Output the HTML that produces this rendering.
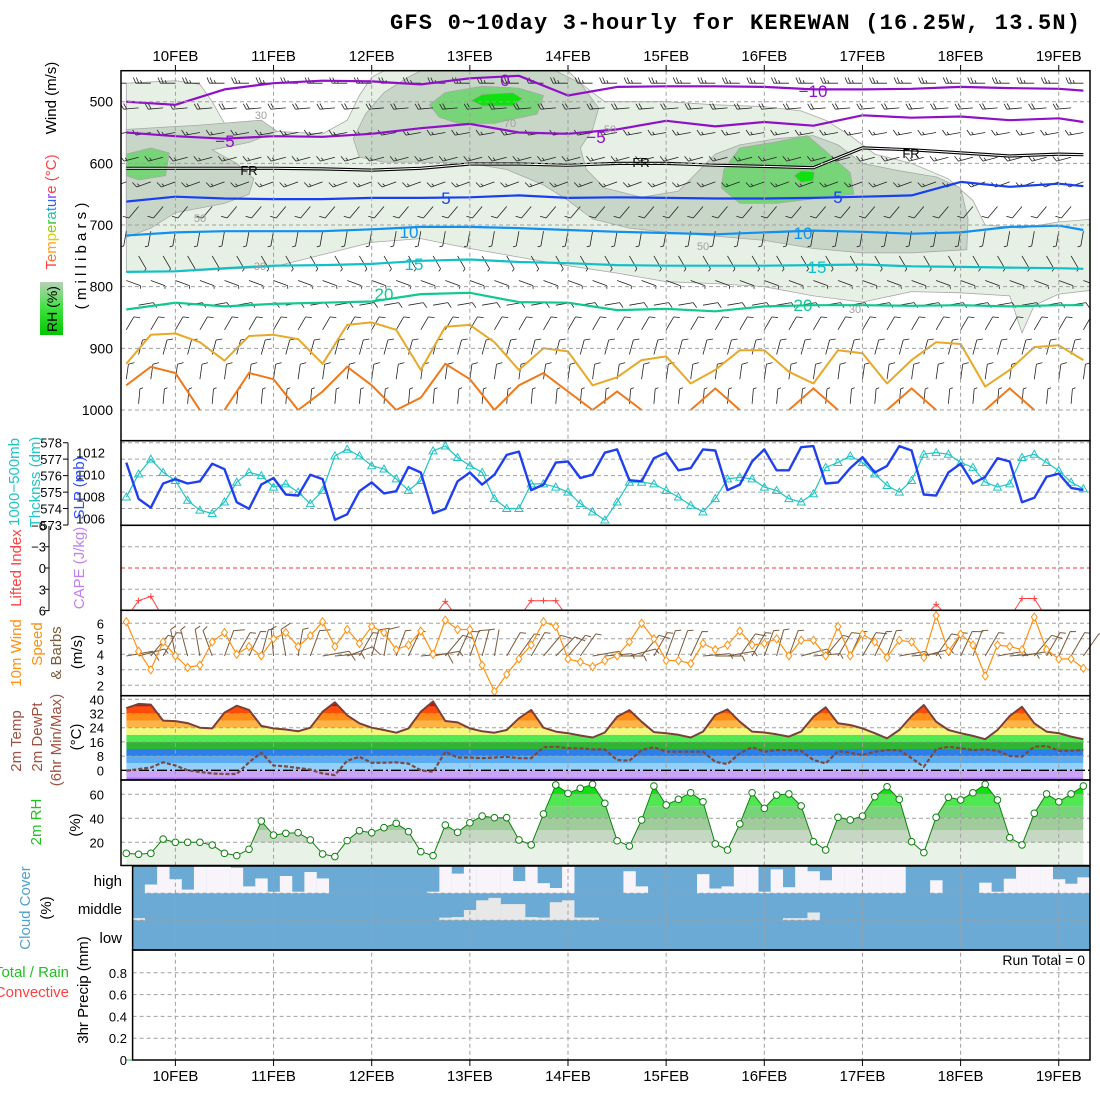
<!DOCTYPE html>
<html><head><meta charset="utf-8">
<style>
body{margin:0;background:#fff}
svg{display:block;font-family:"Liberation Sans",sans-serif}
</style></head>
<body>
<svg id="c" width="1100" height="1100" xmlns="http://www.w3.org/2000/svg">
<defs>
<clipPath id="cp1"><rect x="121" y="70.7" width="969" height="339.3"/></clipPath>
<clipPath id="cp3"><rect x="121" y="525.3" width="969" height="85"/></clipPath>
<clipPath id="cpT"><path id="tclip" d=""/></clipPath>
<clipPath id="cpR"><path id="rclip" d=""/></clipPath>
<linearGradient id="rhg" x1="0" y1="1" x2="0" y2="0"><stop offset="0" stop-color="#00c800"/><stop offset="0.5" stop-color="#40e040"/><stop offset="1" stop-color="#b8d0b8"/></linearGradient>
</defs>
<rect x="0" y="0" width="1100" height="1100" fill="#fff"/>
<text x="735" y="29" text-anchor="middle" font-family="Liberation Mono, monospace" font-weight="bold" font-size="22" textLength="690">GFS 0~10day 3-hourly for KEREWAN (16.25W, 13.5N)</text>
<g id="layers"></g>
</svg>
<script>
// ---------- data ----------
const slp=[1011.1,1007.8,1007.0,1009.2,1009.6,1009.2,1009.4,1011.0,1010.5,1007.5,1006.9,1009.1,1009.7,1008.2,1008.1,1010.0,1009.6,1005.9,1006.4,1008.5,1009.3,1008.3,1008.5,1010.7,1010.2,1006.5,1006.9,1009.4,1010.2,1009.1,1010.0,1011.8,1012.1,1008.6,1009.1,
1011.1,1011.2,1009.7,1010.0,1012.0,1012.3,1009.5,1009.4,1011.5,1012.0,1010.4,1010.6,1012.3,1012.2,1008.6,1009.1,1011.2,1012.3,1010.4,1010.4,1012.5,1012.6,1009.2,1009.3,1010.6,1011.6,1010.2,1010.8,1012.6,1012.2,1008.2,1008.1,1010.2,1011.0,1009.2,1009.8,1011.5,1011.2,1007.5,1007.9,1009.8,1010.1,1008.8,1008.6];
const thk=[574.7,576.1,577.0,576.2,575.7,574.5,573.9,573.7,574.4,575.6,576.2,576.0,575.3,575.5,575.0,574.3,575.1,577.2,577.6,577.2,576.6,576.4,575.8,575.1,575.7,577.5,577.8,577.1,576.6,576.2,574.6,574.0,574.0,575.5,575.5,
575.3,575.0,574.3,573.8,573.3,574.4,575.6,575.6,575.5,575.1,574.7,574.2,573.8,574.6,575.8,575.9,575.8,575.3,575.1,574.6,574.4,574.9,576.5,576.8,577.2,576.8,576.1,575.4,575.0,575.7,577.3,577.4,577.3,576.8,576.5,575.6,575.3,575.5,577.1,577.3,576.8,576.3,575.6,575.2];
const liIdx=[7,4.6,4.0,7,8,8,8,8,8,8,8,8,8,8,8,8,8,8,8,8,8,8,8,8,8,7,4.7,7,8,8,8,8,7,4.6,4.6,4.6,7,8,8,8,8,8,8,8,8,8,8,8,8,8,8,8,8,8,8,8,8,8,8,8,8,8,8,8,8,7,5.1,7,8,8,8,8,7,4.3,4.3,7,8,8,8];
const wind10=[6.1,4.2,3.0,4.8,3.9,3.15,3.3,4.8,5.4,4.0,4.5,3.9,5.0,5.4,4.5,5.2,6.1,4.5,5.6,4.7,5.8,5.4,4.3,4.6,5.5,4.0,6.2,5.6,5.6,3.3,1.6,2.7,3.7,4.6,6.1,
5.8,3.7,3.5,3.2,3.6,3.9,4.8,6.0,5.0,3.6,3.6,3.4,4.7,4.3,4.6,5.5,4.6,4.7,5.0,3.9,4.9,4.9,3.9,5.8,3.9,5.3,4.8,3.8,4.9,4.8,3.8,6.5,4.2,5.3,4.6,2.6,4.6,4.5,4.3,6.4,4.3,3.7,3.7,3.1];
const dir10=[80,75,40,30,350,345,350,340,20,30,25,15,355,350,10,20,80,85,70,30,15,10,20,25,85,80,40,25,20,15,10,30,35,30,40,45,40,35,80,85,90,75,40,30,20,20,25,85,90,80,35,30,20,15,20,75,85,40,30,25,30,25,20,80,85,75,35,30,25,20,30,80,85,80,40,30,25,30,35];
const temp2m=[35,37.4,37,28,27.7,26.6,24,23.6,32.5,36.4,34,25,23.6,23,22,24,33,38.3,31,26.5,24,22.7,21.2,23.6,33,38.8,27.8,27,23.6,22,21.2,22.7,29.3,34,24,
21.8,20.9,19.6,18.5,21.3,30.2,33.9,27.4,21.5,20.9,20.0,18.5,21.8,31.2,34.3,27.4,21.8,21.3,20.3,19.0,21.8,30.2,35.5,26.5,25.5,23.6,20.9,18.0,22.7,30.6,36.8,27.4,22.7,20.9,19.4,17.5,22.7,30.6,35.8,26.5,21.8,20.9,19.0,17.5];
const dew2m=[-0.2,0.7,1.6,4.5,2.7,0,-0.9,-1.8,-2.1,-2.1,4.5,9.9,2.7,2.2,1.3,0.4,-1.8,-2.7,5.4,7.6,4.2,4.3,4.5,3.8,0,-0.9,10.5,7.2,7.2,6.8,7.2,7.6,6.8,6.8,13.0,
13.3,12.4,12.4,11.8,11.8,5.8,5.4,11.4,13.0,10.5,10.5,10.5,10.5,4.8,3.5,9.6,13.0,10.5,11.4,11.4,11.0,5.8,3.9,10.9,9.9,8.6,10.5,11.4,11.4,6.8,2.0,11.8,13.3,12.4,11.4,11.8,11.0,8.1,7.7,13.3,13.7,11.0,11.0,11.4];
const rh2m=[10.8,10,10.8,22.7,20,20,20,17.7,10.8,8.9,14.2,37.7,26,27.5,28,22,10.3,8.1,21.4,29.7,28,32.2,35.8,28.9,12.2,8.9,34.4,28.3,36.3,41.9,40.5,40.5,22,17.8,43.6,
67.8,60.8,65,68.3,52.5,21.3,16.9,38.6,66.9,51.1,55.8,61.3,53.8,18.6,13.6,35.3,61.3,48.3,59.4,60.3,50.3,20.5,13.6,40.8,38.6,41.9,58,66.3,55.8,20.5,11.4,40.8,57.5,55.3,61.3,68.3,55.3,23.9,17.8,44.2,60.3,53.8,60.3,66.9];
const highClear=[0,0.33,1,0.53,0.14,1,1,1,0.96,0.26,0.56,0.06,0.65,0.06,0.8,0.56,0,0,0,0,0,0,0,0,0.06,1,0.74,1,1,1,1,0.46,1,0.38,
0.2,1,0,0,0,0,0.83,0.26,0,0,0,0,0.72,0.18,0.26,1,1,0.06,0.9,0.23,1,0.83,0.49,1,1,1,1,1,1,0,0,0.49,0,0,0,0.4,0.06,0.55,1,1,1,0.53,0.36,0.6,1];
const midClear=[0.08,0,0,0,0,0,0,0,0,0,0,0,0,0,0,0,0,0,0,0,0,0,0,0,0,0.1,0.12,0.38,0.74,0.83,0.6,0.6,0.12,0.1,0.67,0.74,0.1,0.1,0,0,0,0,0,0,0,0,0,0,0,0,0,0,0,0.08,0.08,0.29,0,0,0,0,0,0,0,0,0,0,0,0,0,0,0,0,0,0,0,0,0,0,0];
const precip=new Array(79).fill(0);
// isotherm pressure levels (mb) at sample indices
const isoIdx=[0,4,8,12,16,20,24,28,32,36,40,44,48,52,56,60,64,68,72,76,78];
const isoM10=[500,505,480,470,466,467,472,462,458,490,476,475,475,476,480,480,479,476,478,479,482];
const isoM5=[550,556,560,556,557,552,543,536,550,552,545,531,540,533,539,522,526,524,530,527,533];
const isoFR=[608,608,608,608,609,611,608,601,601,603,600,600,603,605,607,575,578,583,588,585,586];
const iso5=[662,654,657,658,658,656,656,655,652,656,655,656,657,657,656,654,652,630,638,633,637];
const iso10=[717,712,710,710,710,707,703,703,705,708,711,713,715,712,709,711,714,712,703,701,708];
const iso15=[776,775,770,766,765,763,758,756,760,762,765,766,766,766,765,764,767,768,769,770,771];
const iso20=[837,826,832,828,826,824,812,810,825,826,838,836,840,832,830,830,831,830,832,830,830];
const lowIdx=[0,2,4,6,8,10,12,14,16,18,20,22,24,26,28,30,32,34,36,38,40,42,44,46,48,50,52,54,56,58,60,62,64,66,68,70,72,74,76,78];
const iso25=[925,878,876,890,920,880,878,885,925,862,858,870,935,865,862,890,935,900,905,960,947,919,913,957,935,903,903,938,957,903,908,957,919,890,893,962,935,898,895,919];
const iso30=[960,930,940,1000,1000,940,950,1000,970,930,960,1000,980,925,950,1000,960,940,970,1000,970,1000,1000,1000,965,1000,1000,1000,965,1000,1000,1000,965,1000,1000,1000,965,1000,1000,1000];
// RH cross-section regions, vertices as [time index, pressure mb]
const rh30Region=[[0,470],[4,466],[6,472],[7,500],[8,535],[12,548],[16,552],[18,530],[19,490],[20,460],[21,450],[36,450],[37,470],[39,500],[44,500],[48,505],[52,508],[55,515],[57,530],[59,555],[61,585],[64,600],[67,625],[69,660],[70,700],[73,705],[76,695],[79,690],[79,805],[76,812],[74,830],[73,875],[72,815],[68,810],[64,808],[60,825],[56,815],[52,800],[48,795],[44,792],[40,778],[36,766],[32,752],[28,738],[24,722],[20,728],[18,738],[16,748],[12,768],[8,772],[4,776],[0,776]];
const rh50RegionA=[[0,545],[6,538],[11,530],[12.3,548],[10,566],[7,578],[9,600],[10.4,625],[10,650],[8,665],[4,680],[2,705],[0,720]];
const rh50RegionB=[[19,590],[18.5,560],[19.5,520],[21,485],[23,460],[24,450],[35,450],[37,470],[38.5,510],[38,545],[37,575],[37.5,610],[39,640],[42,655],[45,645],[46.5,615],[48,585],[50,570],[53,560],[56,555],[58,570],[60,600],[63,612],[66,622],[68,640],[68.6,690],[68.5,740],[64,745],[60,745],[56,738],[52,725],[48,718],[44,712],[41,705],[38,690],[36,660],[34,635],[31,610],[28,600],[24,598],[21,598]];
const rh70RegionA=[[0,585],[2,575],[3.5,583],[3.2,620],[1,627],[0,620]];
const rh70RegionB=[[24.7,505],[26,485],[29,475],[32,478],[34,490],[33.5,520],[30,535],[27,535],[25.5,525]];
const rh70RegionC=[[48.7,610],[50,575],[53,565],[55.5,555],[57,580],[59,615],[59.3,650],[57,655],[53,665],[50,665],[48.5,640]];
const rh90RegionA=[[28.1,498],[29,488],[31.5,485],[32.3,495],[31.5,507],[29,507]];
const rh90RegionB=[[54.4,620],[55,612],[56.1,614],[56,628],[55,631]];
// upper-air wind barbs per level
const barbLevels=[470,510,550,590,630,670,710,750,790,830,870,910,950,990];
const barbDir=[270,265,260,255,250,220,190,150,110,80,30,15,8,5];
const barbSpd=[15,12,10,9,8,6,5,5,5,6,7,7,6,5];
const dayLabels=['10FEB','11FEB','12FEB','13FEB','14FEB','15FEB','16FEB','17FEB','18FEB','19FEB'];
const presTicks=[500,600,700,800,900,1000];
const thkTicks=[578,577,576,575,574,573];
const slpTicks=[1012,1010,1008,1006];
const liTicks=[-6,-3,0,3,6];
const windTicks=[2,3,4,5,6];
const tempTicks=[0,8,16,24,32,40];
const rhTicks=[20,40,60];
const prTicks=[0,0.2,0.4,0.6,0.8];

// ---------- axes ----------
const X=i=>126.3+12.27*i;
const XD=d=>175.4+98.15*d;
const yP=p=>101.7+(p-500)*0.6166;
const ySLP=v=>474.7-(v-1010)*11;
const yThk=v=>442.7+(578-v)*16.46;
const yLI=v=>568+v*7.1;
const yW=v=>623.3+(6-v)*15.5;
const yT=v=>770.3-v*1.775;
const yRH=v=>866.3-v*1.2;
const yPr=v=>1060-v*109;

const NS='http://www.w3.org/2000/svg';
const root=document.getElementById('layers');
function mk(tag,attrs,parent){const e=document.createElementNS(NS,tag);for(const k in attrs)e.setAttribute(k,attrs[k]);(parent||root).appendChild(e);return e;}
function poly(arr){return arr.map(v=>X(v[0]).toFixed(1)+','+yP(v[1]).toFixed(1)).join(' ');}

// ---------- panel 1 : cross section ----------
const g1=mk('g',{'clip-path':'url(#cp1)'});


const regions=[[rh30Region,'#e6f0e4','rh-30-region'],[rh50RegionA,'#c8d6c8','rh-50-region'],[rh50RegionB,'#c8d6c8','rh-50-region'],[rh70RegionA,'#78d478','rh-70-region'],[rh70RegionB,'#78d478','rh-70-region'],[rh70RegionC,'#78d478','rh-70-region'],[rh90RegionA,'#10e010','rh-90-region'],[rh90RegionB,'#10e010','rh-90-region']];
for(const r of regions){
  const e=mk('polygon',{points:poly(r[0]),fill:r[1],stroke:'#a8a8a8','stroke-width':'0.8'},g1);
  
  
}
function isoLine(idx,vals,color,w,name){
  const pts=idx.map((ix,k)=>X(ix).toFixed(1)+','+yP(vals[k]).toFixed(1)).join(' ');
  const e=mk('polyline',{points:pts,fill:'none',stroke:color,'stroke-width':w,'stroke-linejoin':'round'},g1);
  
  
  return pts;
}
// wind barbs
function barb(parent,x,y,dir,ms,L,color,name,sw){
  const d=dir*Math.PI/180, ux=Math.sin(d), uy=-Math.cos(d), px=Math.cos(d), py=Math.sin(d);
  const tx=x+ux*L, ty=y+uy*L;
  let dstr=`M${x.toFixed(1)},${y.toFixed(1)}L${tx.toFixed(1)},${ty.toFixed(1)}`;
  const kt=ms*1.944; let full=Math.floor(kt/10); const half=(kt%10)>=5;
  let pos=0;
  for(let f=0;f<full;f++){const bx=tx-ux*pos*L*0.2, by=ty-uy*pos*L*0.2;dstr+=`M${bx.toFixed(1)},${by.toFixed(1)}l${((px*0.9+ux*0.4)*L*0.42).toFixed(1)},${((py*0.9+uy*0.4)*L*0.42).toFixed(1)}`;pos++;}
  if(half){const bx=tx-ux*pos*L*0.2, by=ty-uy*pos*L*0.2;dstr+=`M${bx.toFixed(1)},${by.toFixed(1)}l${((px*0.9+ux*0.4)*L*0.22).toFixed(1)},${((py*0.9+uy*0.4)*L*0.22).toFixed(1)}`;}
  const e=mk('path',{d:dstr,fill:'none',stroke:color,'stroke-width':sw||1},parent);
  
  
}
for(let l=0;l<barbLevels.length;l++){
  for(let i=(l%2);i<79;i+=2){
    barb(g1,X(i),yP(barbLevels[l]),barbDir[l],barbSpd[l],15,'#222','upper-wind-barb',0.8);
  }
}
isoLine(isoIdx,isoM10,'#9010c8',2.2,'isotherm-minus10');
isoLine(isoIdx,isoM5,'#9010c8',2.2,'isotherm-minus5');
isoLine(isoIdx,isoFR,'#000',3.2,'freezing-level');
const fr2=mk('polyline',{points:isoIdx.map((ix,k)=>X(ix).toFixed(1)+','+yP(isoFR[k]).toFixed(1)).join(' '),fill:'none',stroke:'#fff','stroke-width':1},g1);


isoLine(isoIdx,iso5,'#1840f0',2.2,'isotherm-5');
isoLine(isoIdx,iso10,'#1090f0',2.2,'isotherm-10');
isoLine(isoIdx,iso15,'#10c0c8',2.2,'isotherm-15');
isoLine(isoIdx,iso20,'#10c890',2.2,'isotherm-20');
isoLine(lowIdx,iso25,'#e8a828',2,'isotherm-25');
// 30C arches
let seg=[];
function flushSeg(){
  if(seg.length>2){
    const e=mk('polyline',{points:seg.join(' '),fill:'none',stroke:'#f07818','stroke-width':2},g1);
    
    
  }
  seg=[];
}
for(let k=0;k<lowIdx.length;k++){
  const p=X(lowIdx[k]).toFixed(1)+','+yP(iso30[k]).toFixed(1);
  if(iso30[k]<1000){ if(seg.length===0&&k>0) seg.push(X(lowIdx[k-1]).toFixed(1)+','+yP(1000)); seg.push(p);}
  else if(seg.length){ seg.push(p); flushSeg(); }
}
flushSeg();
// contour labels
const clabs=[[813,97,'−10','#9010c8'],[225,147,'−5','#9010c8'],[596,143,'−5','#9010c8'],[505,86,'0','#9010c8'],[249,175,'FR','#000'],[641,167,'FR','#000'],[911,158,'FR','#000'],[446,204,'5','#1840f0'],[838,203,'5','#1840f0'],[409,238,'10','#1090f0'],[803,239,'10','#1090f0'],[414,270,'15','#10c0c8'],[817,273,'15','#10c0c8'],[384,300,'20','#10c890'],[803,311,'20','#10c890'],[200,222,'50','#a0a0a0'],[261,119,'30','#a0a0a0'],[510,127,'70','#a0a0a0'],[610,133,'50','#a0a0a0'],[855,313,'30','#a0a0a0'],[260,270,'30','#a0a0a0'],[703,250,'50','#a0a0a0']];
for(const c of clabs){
  const fs=(c[3]==='#a0a0a0')?11:(c[2]==='FR'?13:17);
  const e=mk('text',{x:c[0],y:c[1],fill:c[3],'font-size':fs,'text-anchor':'middle'},g1);
  e.textContent=c[2];
  
  
}

// ---------- panel 5: temp bands ----------
let td='M'+X(0)+','+yT(temp2m[0]);
for(let i=1;i<79;i++) td+='L'+X(i).toFixed(1)+','+yT(temp2m[i]).toFixed(1);
td+='L'+X(78)+',780L'+X(0)+',780Z';
document.getElementById('tclip').setAttribute('d',td);
const gT=mk('g',{'clip-path':'url(#cpT)'});


const tBands=[[-8,-4,'#a878e8'],[-4,0,'#caa4f8'],[0,4,'#94d0fa'],[4,8,'#5aacf2'],[8,12,'#2c7ee8'],[12,16,'#30b434'],[16,20,'#52e852'],[20,24,'#f4f87a'],[24,28,'#ffb444'],[28,32,'#ff8c18'],[32,36,'#ff4a08'],[36,44,'#c81008']];
for(const b of tBands){
  const e=mk('rect',{x:X(0),y:yT(b[1]),width:X(78)-X(0),height:yT(b[0])-yT(b[1]),fill:b[2]},gT);
  
  
}
// RH fill
let rd='M'+X(0)+','+yRH(rh2m[0]);
for(let i=1;i<79;i++) rd+='L'+X(i).toFixed(1)+','+yRH(rh2m[i]).toFixed(1);
rd+='L'+X(78)+',865L'+X(0)+',865Z';
document.getElementById('rclip').setAttribute('d',rd);
const gR=mk('g',{'clip-path':'url(#cpR)'});


const rBands=[[0,20,'#e8f2e6'],[20,30,'#c6d8c4'],[30,40,'#a0cc9c'],[40,50,'#78d478'],[50,60,'#50e850'],[60,100,'#10e010']];
for(const b of rBands){
  const e=mk('rect',{x:X(0),y:yRH(b[1]),width:X(78)-X(0),height:yRH(b[0])-yRH(b[1]),fill:b[2]},gR);
  
  
}
// cloud cover
const cloudBg=mk('rect',{x:132.6,y:866,width:1090-132.6,height:84,fill:'#6aaad4'});


for(let k=0;k<79;k++){
  const bx=132.6+12.27*k, bw=Math.min(12.4,1090-bx);
  if(highClear[k]>0){
    const h=highClear[k]*26.6;
    const e=mk('rect',{x:bx,y:893.3-h,width:bw,height:h,fill:'#f8f4fa'});
    
    
  }
  if(midClear[k]>0){
    const h=midClear[k]*27;
    const e=mk('rect',{x:bx,y:920.3-h,width:bw,height:h,fill:'#e8e8e8'});
    
    
  }
}

// ---------- grid lines ----------
const gG=mk('g',{stroke:'#a0a0a0','stroke-width':1,'stroke-dasharray':'4,3',fill:'none'});


function hl(y,x0,name){const e=mk('line',{x1:x0||121,x2:1090,y1:y,y2:y},gG);}
for(let d=0;d<10;d++){
  const e=mk('line',{x1:XD(d),x2:XD(d),y1:70.7,y2:1060},gG);
  
  
}
for(const p of presTicks) hl(yP(p),121,'pressure-gridline');
for(const v of thkTicks.slice(0,5)) hl(yThk(v),121,'thickness-gridline');
hl(yLI(-3),121,'li-gridline');hl(yLI(3),121,'li-gridline');
for(const v of windTicks) hl(yW(v),121,'wind-gridline');
for(const v of tempTicks.slice(1)) hl(yT(v),121,'temp-gridline');
for(const v of rhTicks) hl(yRH(v),121,'rh-gridline');
hl(893.3,132.6,'cloud-gridline');hl(920.3,132.6,'cloud-gridline');
for(const v of prTicks.slice(1)) hl(yPr(v),132.6,'precip-gridline');
const liZero=mk('line',{x1:121,x2:1090,y1:yLI(0),y2:yLI(0),stroke:'#ff3030','stroke-width':1,'stroke-dasharray':'4,3'});


const tZero=mk('line',{x1:121,x2:1090,y1:yT(0),y2:yT(0),stroke:'#000','stroke-width':1.3,'stroke-dasharray':'10,3,2,3'});



// ---------- series lines ----------
function line(vals,yf,color,w,name,dash){
  const pts=vals.map((v,i)=>X(i).toFixed(1)+','+yf(v).toFixed(1)).join(' ');
  const e=mk('polyline',{points:pts,fill:'none',stroke:color,'stroke-width':w,'stroke-linejoin':'round'});
  if(dash)e.setAttribute('stroke-dasharray',dash);
  
  
  return e;
}
line(thk,yThk,'#20c4c4',1.2,'thickness-line');
for(let i=0;i<79;i++){
  const x=X(i),y=yThk(thk[i]);
  const e=mk('polygon',{points:`${x},${y-4} ${x-4},${y+3} ${x+4},${y+3}`,fill:'none',stroke:'#20c4c4','stroke-width':1});
  
  
}
line(slp,ySLP,'#2040f0',2.4,'slp-line');
const gLI=mk('g',{'clip-path':'url(#cp3)'});


const liLine=mk('polyline',{points:liIdx.map((v,i)=>X(i).toFixed(1)+','+yLI(v).toFixed(1)).join(' '),fill:'none',stroke:'#ff4040','stroke-width':1},gLI);


for(let i=0;i<79;i++){ if(liIdx[i]<6){
  const e=mk('path',{d:`M${X(i)-3},${yLI(liIdx[i])}h6M${X(i)},${yLI(liIdx[i])-3}v6`,stroke:'#ff4040','stroke-width':1},gLI);
  
  
}}
// 10m barbs
for(let i=0;i<79;i++) barb(root,X(i),656,dir10[i],wind10[i],27,'#7a5a3a','wind10m-barb',1);
line(wind10,yW,'#ff9010',1.2,'wind10m-speed-line');
for(let i=0;i<79;i++){
  const x=X(i),y=yW(wind10[i]);
  const e=mk('polygon',{points:`${x},${y-4} ${x+3},${y} ${x},${y+4} ${x-3},${y}`,fill:'#fff',stroke:'#ff9010','stroke-width':1});
  
  
}
line(temp2m,yT,'#7a4038',2,'temperature-line');
line(dew2m,yT,'#7a4a40',2.2,'dewpoint-line','4,2');
line(rh2m,yRH,'#108010',1,'rh-line');
for(let i=0;i<79;i++){
  const e=mk('circle',{cx:X(i),cy:yRH(rh2m[i]),r:3.3,fill:'#fff',stroke:'#108010','stroke-width':1});
  
  
}
line(precip,yPr,'#20c020',1,'precip-line');

// ---------- frames ----------
const frames=[[121,70.7,969,370,'panel-cross-section'],[121,440.7,969,84.6,'panel-slp-thickness'],[121,525.3,969,85,'panel-lifted-index'],[121,610.3,969,85.4,'panel-wind10m'],[121,695.7,969,84.3,'panel-temperature'],[121,780,969,85.5,'panel-rh'],[132.6,866,957.4,84,'panel-cloud-cover'],[132.6,950,957.4,110,'panel-precip']];
for(const f of frames){
  const e=mk('rect',{x:f[0],y:f[1],width:f[2],height:f[3],fill:'none',stroke:'#000','stroke-width':1.5});
  
  
}
// ---------- labels ----------
function txt(x,y,s,opt,name){
  const e=mk('text',Object.assign({x:x,y:y,'font-size':14},opt||{}));
  e.textContent=s;
  
  
  return e;
}
for(let d=0;d<10;d++){
  txt(XD(d),61,dayLabels[d],{'text-anchor':'middle','font-size':15},'top-date-label');
  txt(XD(d),1081,dayLabels[d],{'text-anchor':'middle','font-size':15},'bottom-date-label');
  const t1=mk('line',{x1:XD(d),x2:XD(d),y1:65,y2:70.7,stroke:'#000'});
  
  
  const t2=mk('line',{x1:XD(d),x2:XD(d),y1:1060,y2:1066,stroke:'#000'});
  
  
}
for(const p of presTicks) txt(113,yP(p)+5,String(p),{'text-anchor':'end'},'pressure-tick-label');
for(const v of thkTicks) txt(62,yThk(v)+5,String(v),{'text-anchor':'end','font-size':13},'thickness-tick-label');
for(const v of slpTicks) txt(105,ySLP(v)+5,String(v),{'text-anchor':'end','font-size':13},'slp-tick-label');
for(const v of liTicks) txt(46,yLI(v)+5,v<0?'−'+(-v):String(v),{'text-anchor':'end','font-size':13},'li-tick-label');
for(const v of windTicks) txt(104,yW(v)+5,String(v),{'text-anchor':'end','font-size':13},'wind-tick-label');
for(const v of tempTicks) txt(104,yT(v)+5,String(v),{'text-anchor':'end','font-size':13},'temp-tick-label');
for(const v of rhTicks) txt(104,yRH(v)+5,String(v),{'text-anchor':'end','font-size':13},'rh-tick-label');
for(const v of prTicks) txt(127,yPr(v)+5,String(v),{'text-anchor':'end','font-size':13},'precip-tick-label');
// axis lines for thickness and LI scales
const ax1=mk('path',{d:'M68,442.7V525M63,'+yThk(578)+'h5M63,'+yThk(577)+'h5M63,'+yThk(576)+'h5M63,'+yThk(575)+'h5M63,'+yThk(574)+'h5M63,'+yThk(573)+'h5',stroke:'#000',fill:'none'});


const ax2=mk('path',{d:'M49,526V611M49,'+yLI(-3)+'h-4M49,'+yLI(0)+'h-4M49,'+yLI(3)+'h-4M49,'+yLI(6)+'h-4',stroke:'#000',fill:'none'});


function vtxt(x,y,s,color,name,fs,extra){
  const e=mk('text',Object.assign({x:0,y:0,transform:`translate(${x},${y}) rotate(-90)`,'text-anchor':'middle',fill:color,'font-size':fs||15},extra||{}));
  e.textContent=s;
  
  
  return e;
}
vtxt(56,98,'Wind (m/s)','#000','wind-axis-title');
const tt=vtxt(56,212,'','#000','temperature-axis-title');
const cols=['#ff4040','#ff7030','#ffa020','#e0d000','#90d000','#30c030','#20c0a0','#20a0e0','#3060f0','#8040f0','#ff4040'];
const word='Temperature (°C)';
for(let k=0;k<word.length;k++){
  const ts=document.createElementNS(NS,'tspan');
  ts.textContent=word[k];
  ts.setAttribute('fill',k<11?cols[k]:'#ff4040');
  
  
  tt.appendChild(ts);
}
const rhBox=mk('rect',{x:40,y:282,width:23,height:53,fill:'url(#rhg)'});


vtxt(57,309,'RH (%)','#000','rh-legend-label',14);
vtxt(86,256,'( m i l l i b a r s )','#000','pressure-axis-title',15);
vtxt(19,482,'1000−500mb','#20c4c4','thickness-title-1');
vtxt(40,482,'Thcknss (dm)','#20c4c4','thickness-title-2');
vtxt(84,488,'SLP (mb)','#3050ff','slp-axis-title');
vtxt(21,568,'Lifted Index','#ff4040','li-axis-title');
vtxt(84,568,'CAPE (J/kg)','#c080f0','cape-axis-title');
vtxt(21,653,'10m Wind','#ff9010','wind10m-title');
vtxt(42,644,'Speed','#ff9010','wind10m-speed-title');
vtxt(61,653,'& Barbs','#7a5a3a','wind10m-barbs-title');
vtxt(82,652,'(m/s)','#000','wind10m-unit');
vtxt(21,741,'2m Temp','#a05040','temp-title');
vtxt(42,737,'2m DewPt','#a05040','dewpoint-title');
vtxt(61,740,'(6hr Min/Max)','#a05040','minmax-title');
vtxt(81,737,'(°C)','#000','temp-unit');
vtxt(41,822,'2m RH','#20c020','rh-title');
vtxt(80,825,'(%)','#000','rh-unit');
vtxt(30,908,'Cloud Cover','#50a0d0','cloud-title');
vtxt(51,908,'(%)','#000','cloud-unit');
vtxt(88,990,'3hr Precip (mm)','#000','precip-axis-title');
txt(122,886,'high',{'text-anchor':'end','font-size':15},'cloud-high-label');
txt(122,914,'middle',{'text-anchor':'end','font-size':15},'cloud-middle-label');
txt(122,943,'low',{'text-anchor':'end','font-size':15},'cloud-low-label');
txt(69,977,'Total / Rain',{'text-anchor':'end','font-size':15,fill:'#20c020'},'precip-rain-legend');
txt(69,997,'Convective',{'text-anchor':'end','font-size':15,fill:'#ff4040'},'precip-convective-legend');
txt(1085,965,'Run Total = 0',{'text-anchor':'end','font-size':14},'run-total-label');
</script>
</body></html>
